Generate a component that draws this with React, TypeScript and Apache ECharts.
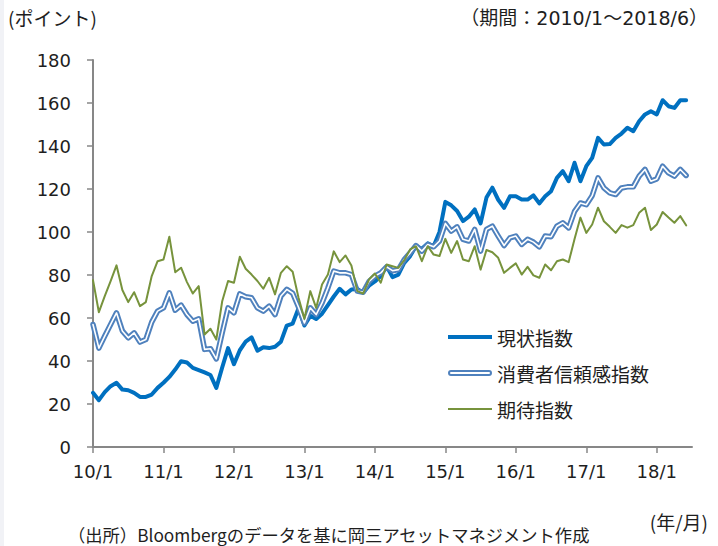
import React, { useEffect, useRef } from 'react';
import * as echarts from 'echarts';

// Monthly data 2010/1 – 2018/6 (102 months); axis runs one slot further (2018/7)
const FIRST_YEAR = 10;
const SLOT_COUNT = 103;
const MONTHS_PER_TICK = 12;

const CATEGORIES: string[] = Array.from({ length: SLOT_COUNT }, (_, i) =>
  `${FIRST_YEAR + Math.floor(i / 12)}/${(i % 12) + 1}`
);

const Y_MIN = 0;
const Y_MAX = 180;
const Y_INTERVAL = 20;

const SERIES_CURRENT = '現状指数';
const SERIES_CONFIDENCE = '消費者信頼感指数';
const SERIES_EXPECT = '期待指数';

const CURRENT = [
  25.2, 21.8, 25.5, 28.3, 29.9, 26.7, 26.4, 25.2, 23.3, 23.3, 24.4, 27.5,
  29.9, 32.6, 36.0, 39.9, 39.3, 36.8, 35.8, 34.7, 33.5, 27.5, 37.0, 46.0,
  38.5, 45.0, 49.0, 51.0, 44.8, 46.4, 46.0, 46.6, 49.0, 56.5, 57.4, 64.5,
  56.5, 61.0, 59.5, 62.0, 66.0, 70.0, 73.6, 71.0, 73.3, 73.5, 71.8, 75.0,
  77.0, 79.5, 84.0, 79.0, 80.2, 85.6, 88.8, 93.5, 92.2, 94.7, 93.4, 100.0,
  114.0, 112.4, 109.8, 105.1, 107.1, 110.5, 104.0, 116.0, 120.6, 115.0, 111.2, 116.6,
  116.6, 115.1, 115.1, 117.0, 113.3, 116.6, 119.0, 125.2, 128.3, 123.6, 132.2, 123.6,
  130.6, 134.5, 143.8, 140.7, 140.9, 143.8, 145.8, 148.5, 146.9, 151.5, 154.7, 156.2,
  154.7, 161.3, 158.5, 157.7, 161.3, 161.3,
];

const CONFIDENCE = [
  57.0, 46.0, 51.6, 57.0, 62.4, 54.0, 50.8, 53.1, 48.8, 50.0, 58.1, 63.2,
  64.7, 71.7, 63.6, 66.0, 61.6, 58.5, 59.6, 45.4, 45.7, 41.0, 53.1, 64.7,
  62.4, 71.2, 69.9, 69.4, 64.7, 63.2, 65.5, 61.6, 70.2, 73.3, 71.5, 65.0,
  57.7, 64.7, 61.6, 67.0, 74.0, 81.8, 81.0, 81.0, 80.2, 72.5, 72.0, 77.0,
  79.5, 81.0, 83.8, 82.0, 82.5, 87.2, 90.3, 93.7, 91.1, 94.2, 93.1, 95.8,
  104.0, 100.4, 102.4, 96.6, 95.8, 101.2, 91.1, 101.2, 102.7, 98.1, 93.7, 97.3,
  98.1, 94.2, 96.6, 95.3, 93.1, 98.1, 97.8, 102.7, 104.3, 101.9, 109.6, 113.5,
  112.7, 116.9, 125.2, 120.5, 118.2, 117.4, 120.5, 121.0, 121.0, 126.0, 129.1, 123.6,
  124.7, 130.6, 127.5, 126.0, 129.1, 126.3,
];

const EXPECT = [
  77.6, 62.7, 70.2, 77.2, 84.5, 73.0, 67.4, 72.0, 65.5, 67.4, 79.5, 86.4,
  87.2, 97.8, 81.3, 83.4, 76.7, 71.4, 74.8, 52.3, 55.0, 50.0, 67.8, 77.2,
  76.4, 88.5, 82.9, 80.2, 77.2, 73.6, 78.7, 71.0, 81.0, 84.1, 81.5, 69.4,
  59.6, 72.5, 64.7, 75.6, 80.2, 91.0, 86.0, 89.1, 84.4, 72.5, 71.4, 77.9,
  80.7, 76.4, 84.9, 84.1, 83.3, 86.9, 91.9, 93.4, 86.4, 93.4, 89.5, 88.8,
  96.8, 90.3, 95.8, 87.2, 86.4, 93.4, 82.5, 91.6, 90.6, 88.0, 81.0, 83.3,
  85.4, 80.2, 83.8, 79.8, 78.7, 84.9, 82.2, 86.4, 87.2, 86.0, 96.8, 106.7,
  99.6, 103.5, 111.3, 105.0, 102.4, 99.6, 103.2, 102.0, 103.2, 108.9, 111.3, 100.9,
  103.5, 109.3, 106.7, 104.3, 107.4, 103.1,
];

const COLOR_CURRENT = '#0070C0';
const COLOR_CONFIDENCE = '#4F81BD';
const COLOR_EXPECT = '#77933C';
const AXIS_COLOR = '#878787';
const TEXT_COLOR = '#1e1e1e';
const JP_FONT = '"Noto Sans CJK JP", "Noto Sans", sans-serif';
const MIXED_FONT = '"DejaVu Sans", "Noto Sans CJK JP", sans-serif';
const NUM_FONT = '"DejaVu Sans", sans-serif';

const DOUBLE_ICON =
  'path://M3,0 H41 A3,3 0 0 1 41,6 H3 A3,3 0 0 1 3,0 Z M3,2 A1,1 0 0 0 3,4 H41 A1,1 0 0 0 41,2 Z';

export default function App() {
  const ref = useRef<HTMLDivElement>(null);

  useEffect(() => {
    if (!ref.current) return;
    const chart = echarts.init(ref.current, undefined, { renderer: 'svg' });
    const tickShown = (index: number) => index % MONTHS_PER_TICK === 0;
    const legendBase = {
      orient: 'horizontal',
      left: 448,
      padding: 0,
      itemWidth: 44,
      selectedMode: false,
      textStyle: { fontSize: 19, fontFamily: JP_FONT, color: TEXT_COLOR, lineHeight: 22 },
      itemStyle: { borderWidth: 0 },
    };
    const lineCommon = {
      type: 'line',
      symbol: 'none',
      showSymbol: false,
      silent: true,
      smooth: false,
    };

    chart.setOption({
      animation: false,
      backgroundColor: '#ffffff',
      grid: { left: 93, right: 26, top: 60, bottom: 99 },
      xAxis: {
        type: 'category',
        data: CATEGORIES,
        boundaryGap: false,
        axisLine: { show: true, lineStyle: { color: AXIS_COLOR, width: 2 } },
        axisTick: {
          show: true,
          interval: (index: number) => tickShown(index),
          length: 6,
          lineStyle: { color: AXIS_COLOR, width: 1.5 },
        },
        axisLabel: {
          interval: (index: number) => tickShown(index),
          fontSize: 18,
          fontFamily: NUM_FONT,
          color: TEXT_COLOR,
          margin: 15,
        },
        splitLine: { show: false },
      },
      yAxis: {
        type: 'value',
        min: Y_MIN,
        max: Y_MAX,
        interval: Y_INTERVAL,
        axisLine: { show: true, lineStyle: { color: AXIS_COLOR, width: 2 } },
        axisTick: { show: true, length: 6, lineStyle: { color: AXIS_COLOR, width: 1.5 } },
        axisLabel: {
          fontSize: 18,
          fontFamily: NUM_FONT,
          color: TEXT_COLOR,
          margin: 22,
        },
        splitLine: { show: false },
      },
      legend: [
        {
          ...legendBase,
          top: 326,
          itemHeight: 4,
          icon: 'rect',
          data: [SERIES_CURRENT],
        },
        {
          ...legendBase,
          top: 362,
          itemHeight: 6,
          icon: DOUBLE_ICON,
          data: [SERIES_CONFIDENCE],
        },
        {
          ...legendBase,
          top: 398,
          itemHeight: 2,
          icon: 'rect',
          data: [SERIES_EXPECT],
        },
      ],
      series: [
        {
          ...lineCommon,
          name: SERIES_CURRENT,
          data: CURRENT,
          z: 2,
          itemStyle: { color: COLOR_CURRENT },
          lineStyle: { color: COLOR_CURRENT, width: 4, join: 'round', cap: 'round' },
        },
        {
          ...lineCommon,
          name: SERIES_CONFIDENCE,
          data: CONFIDENCE,
          z: 3,
          itemStyle: { color: COLOR_CONFIDENCE },
          lineStyle: { color: COLOR_CONFIDENCE, width: 5.5, join: 'round', cap: 'round' },
        },
        {
          ...lineCommon,
          name: SERIES_CONFIDENCE + '（中線）',
          data: CONFIDENCE,
          z: 4,
          itemStyle: { color: '#ffffff' },
          lineStyle: { color: '#ffffff', width: 1.6, join: 'round', cap: 'round' },
        },
        {
          ...lineCommon,
          name: SERIES_EXPECT,
          data: EXPECT,
          z: 5,
          itemStyle: { color: COLOR_EXPECT },
          lineStyle: { color: COLOR_EXPECT, width: 2, join: 'round', cap: 'round' },
        },
      ],
      graphic: [
        {
          type: 'rect',
          left: 0,
          top: 0,
          shape: { width: 4, height: 546 },
          style: { fill: '#f1f2f6' },
          silent: true,
        },
        {
          type: 'text',
          left: 8,
          top: 8,
          style: {
            text: '(ポイント)',
            fontSize: 19,
            fontFamily: JP_FONT,
            fill: TEXT_COLOR,
          },
        },
        {
          type: 'text',
          right: 10,
          top: 8,
          style: {
            text: '（期間：2010/1～2018/6）',
            fontSize: 19,
            fontFamily: MIXED_FONT,
            fill: TEXT_COLOR,
          },
        },
        {
          type: 'text',
          right: 10,
          top: 512,
          style: {
            text: '(年/月)',
            fontSize: 19,
            fontFamily: JP_FONT,
            fill: TEXT_COLOR,
          },
        },
        {
          type: 'text',
          left: 68,
          top: 526,
          style: {
            text: '（出所）Bloombergのデータを基に岡三アセットマネジメント作成',
            fontSize: 17.3,
            fontFamily: JP_FONT,
            fill: TEXT_COLOR,
          },
        },
      ],
    });

    return () => {
      chart.dispose();
    };
  }, []);

  return (
    <div
      ref={ref}
      style={{ position: 'fixed', left: 0, top: 0, width: 718, height: 546, background: '#ffffff' }}
    />
  );
}
